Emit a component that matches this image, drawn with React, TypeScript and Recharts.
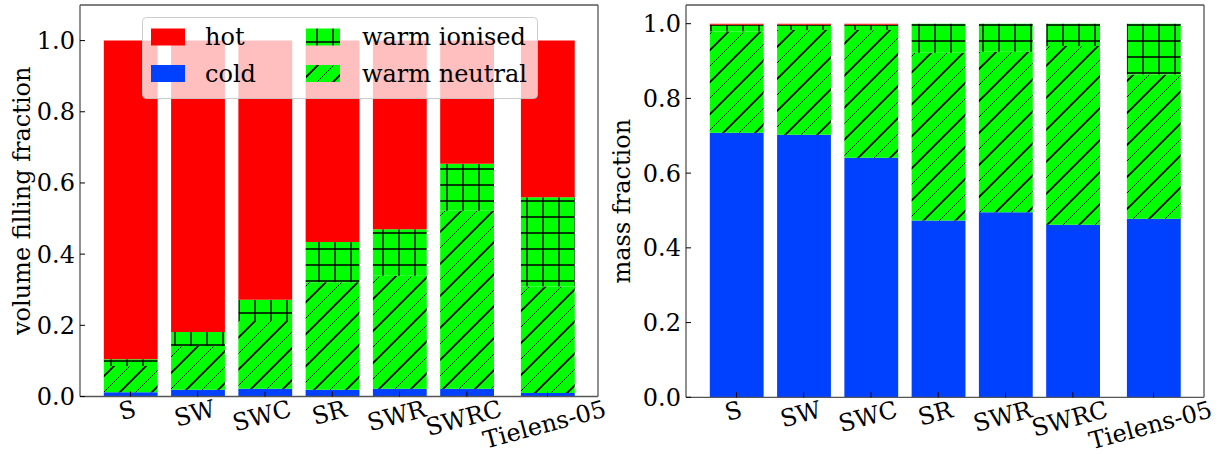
import React from 'react';
import { BarChart, Bar, XAxis, YAxis, Label } from 'recharts';

// ISM phase fractions per simulation run
const categories = ['S', 'SW', 'SWC', 'SR', 'SWR', 'SWRC', 'Tielens-05'];
const slots = [0, 1, 2, 3, 4, 5, 6.2];

const volCold = [0.012, 0.019, 0.022, 0.019, 0.022, 0.022, 0.01];
const volWarmNeutral = [0.074, 0.123, 0.19, 0.302, 0.317, 0.5, 0.299];
const volWarmIonised = [0.019, 0.039, 0.06, 0.113, 0.131, 0.132, 0.251];
const volHot = [0.895, 0.819, 0.728, 0.566, 0.53, 0.346, 0.44];

const massCold = [0.708, 0.703, 0.641, 0.473, 0.495, 0.462, 0.478];
const massWarmNeutral = [0.271, 0.28, 0.342, 0.449, 0.43, 0.478, 0.386];
const massWarmIonised = [0.018, 0.014, 0.014, 0.078, 0.075, 0.06, 0.136];
const massHot = [0.003, 0.003, 0.003, 0, 0, 0, 0];

const yTicks = [0, 0.2, 0.4, 0.6, 0.8, 1.0];
const xDomain: [number, number] = [-0.75, 6.95];

const RED = '#ff0000';
const BLUE = '#0040ff';
const GREEN = '#00ff00';
const SPINE = '#555555';
const FONT = "'DejaVu Serif', serif";
const FS = 24;

let measureCtx: CanvasRenderingContext2D | null = null;
function textWidth(s: string): number {
  if (!measureCtx) measureCtx = document.createElement('canvas').getContext('2d');
  if (!measureCtx) return s.length * FS * 0.55;
  measureCtx.font = `${FS}px ${FONT}`;
  return measureCtx.measureText(s).width;
}

function HatchDefs({ pid }: { pid: string }) {
  return (
    <defs>
      <pattern id={`${pid}-wn`} patternUnits="userSpaceOnUse" width={32} height={32}>
        <rect width={32} height={32} fill={GREEN} />
        <path d="M-8,8 L8,-8 M0,32 L32,0 M24,40 L40,24" stroke="#000" strokeWidth={1.8} />
        <path d="M-8,24 L24,-8 M8,40 L40,8" stroke="#000" strokeWidth={0.9} />
      </pattern>
      <pattern id={`${pid}-wi`} patternUnits="userSpaceOnUse" width={16} height={16} x={7} y={1}>
        <rect width={16} height={16} fill={GREEN} />
        <path d="M8,0 V16 M0,8 H16" stroke="#000" strokeWidth={1.4} />
      </pattern>
    </defs>
  );
}

function XTick(props: any) {
  const { x, y, index } = props;
  const label = categories[index];
  const w = textWidth(label);
  const a = (15 * Math.PI) / 180;
  const cx = x - 3;
  const cy = y + (w / 2) * Math.sin(a) + 7 * Math.cos(a);
  return (
    <text
      x={cx}
      y={cy}
      textAnchor="middle"
      dominantBaseline="central"
      transform={`rotate(-15 ${cx} ${cy})`}
      fontFamily={FONT}
      fontSize={FS}
      fill="#000"
    >
      {label}
    </text>
  );
}

type PanelProps = {
  pid: string;
  cold: number[];
  warmNeutral: number[];
  warmIonised: number[];
  hot: number[];
  left: number;
  width: number;
  marginLeft: number;
  marginRight: number;
  yMax: number;
  xAxisH: number;
  yLabel: string;
  labelX: number;
};

function Panel(p: PanelProps) {
  const rows = categories.map((name, i) => ({
    name,
    x: slots[i],
    cold: p.cold[i],
    warmNeutral: p.warmNeutral[i],
    warmIonised: p.warmIonised[i],
    hot: p.hot[i],
  }));
  const yAxisW = 70;
  const plotW = p.width - p.marginLeft - yAxisW - p.marginRight - 1;
  const barPx = (0.8 * plotW) / (xDomain[1] - xDomain[0]);
  return (
    <div style={{ position: 'absolute', left: p.left, top: 0 }}>
      <BarChart
        width={p.width}
        height={454}
        data={rows}
        barSize={barPx}
        margin={{ top: 4, right: p.marginRight, bottom: 0, left: p.marginLeft }}
      >
        <HatchDefs pid={p.pid} />
        <XAxis
          dataKey="x"
          type="number"
          domain={xDomain}
          ticks={slots}
          interval={0}
          allowDataOverflow
          height={p.xAxisH}
          tickSize={-5}
          tickMargin={10}
          tick={<XTick />}
          stroke={SPINE}
          axisLine={{ stroke: SPINE, strokeWidth: 1.3 }}
          tickLine={{ stroke: '#000' }}
        />
        {/* frame: top spine with inward ticks */}
        <XAxis
          xAxisId="top"
          orientation="top"
          type="number"
          domain={xDomain}
          ticks={slots}
          interval={0}
          allowDataOverflow
          height={1}
          tick={false}
          tickSize={-5}
          stroke={SPINE}
          axisLine={{ stroke: SPINE, strokeWidth: 1.3 }}
          tickLine={{ stroke: '#000' }}
        />
        <YAxis
          type="number"
          domain={[0, p.yMax]}
          ticks={yTicks}
          interval={0}
          allowDataOverflow
          width={yAxisW}
          tickSize={-5}
          tickMargin={10}
          tickFormatter={(v: number) => v.toFixed(1)}
          tick={{ fill: '#000', fontSize: FS, fontFamily: FONT }}
          stroke={SPINE}
          axisLine={{ stroke: SPINE, strokeWidth: 1.3 }}
          tickLine={{ stroke: '#000' }}
        >
          <Label
            content={(lp: any) => {
              const vb = lp.viewBox || { y: 5, height: 392 };
              const cy = vb.y + vb.height / 2;
              return (
                <text
                  x={p.labelX}
                  y={cy}
                  textAnchor="middle"
                  dominantBaseline="central"
                  transform={`rotate(-90 ${p.labelX} ${cy})`}
                  fontFamily={FONT}
                  fontSize={FS}
                  fill="#000"
                >
                  {p.yLabel}
                </text>
              );
            }}
          />
        </YAxis>
        {/* frame: right spine with inward ticks */}
        <YAxis
          yAxisId="right"
          orientation="right"
          type="number"
          domain={[0, p.yMax]}
          ticks={yTicks}
          interval={0}
          allowDataOverflow
          width={1}
          tick={false}
          tickSize={-5}
          stroke={SPINE}
          axisLine={{ stroke: SPINE, strokeWidth: 1.3 }}
          tickLine={{ stroke: '#000' }}
        />
        <Bar dataKey="cold" stackId="s" fill={BLUE} isAnimationActive={false} />
        <Bar dataKey="warmNeutral" stackId="s" fill={`url(#${p.pid}-wn)`} isAnimationActive={false} />
        <Bar dataKey="warmIonised" stackId="s" fill={`url(#${p.pid}-wi)`} isAnimationActive={false} />
        <Bar dataKey="hot" stackId="s" fill={RED} isAnimationActive={false} />
      </BarChart>
    </div>
  );
}

const legendItems = [
  { label: 'hot', fill: RED, col: 0, row: 0 },
  { label: 'cold', fill: BLUE, col: 0, row: 1 },
  { label: 'warm ionised', fill: 'url(#lg-wi)', col: 1, row: 0 },
  { label: 'warm neutral', fill: 'url(#lg-wn)', col: 1, row: 1 },
];

function PhaseLegend() {
  const colSwatch = [9, 164];
  const colText = [63, 220];
  const rowMid = [20, 56.5];
  return (
    <svg
      width={396}
      height={82}
      style={{ position: 'absolute', left: 141.5, top: 16.5, overflow: 'visible' }}
    >
      <HatchDefs pid="lg" />
      <rect
        x={0.5}
        y={0.5}
        width={395}
        height={81}
        rx={4}
        ry={4}
        fill="rgba(255,255,255,0.75)"
        stroke="rgba(200,200,200,0.9)"
        strokeWidth={1}
      />
      {legendItems.map((it) => (
        <g key={it.label}>
          <rect
            x={colSwatch[it.col]}
            y={rowMid[it.row] - 8.5}
            width={34}
            height={17}
            fill={it.fill}
          />
          <text
            x={colText[it.col]}
            y={rowMid[it.row]}
            dominantBaseline="central"
            fontFamily={FONT}
            fontSize={FS}
            fill="#000"
          >
            {it.label}
          </text>
        </g>
      ))}
    </svg>
  );
}

export default function App() {
  return (
    <div
      style={{
        position: 'absolute',
        left: 0,
        top: 0,
        width: 1226,
        height: 454,
        background: '#fff',
        overflow: 'hidden',
      }}
    >
      <Panel
        pid="vol"
        cold={volCold}
        warmNeutral={volWarmNeutral}
        warmIonised={volWarmIonised}
        hot={volHot}
        left={0}
        width={610}
        marginLeft={10}
        marginRight={11}
        yMax={1.1}
        xAxisH={57.5}
        yLabel="volume filling fraction"
        labelX={22}
      />
      <Panel
        pid="mass"
        cold={massCold}
        warmNeutral={massWarmNeutral}
        warmIonised={massWarmIonised}
        hot={massHot}
        left={600}
        width={626}
        marginLeft={16}
        marginRight={21}
        yMax={1.05}
        xAxisH={56.7}
        yLabel="mass fraction"
        labelX={22}
      />
      <PhaseLegend />
    </div>
  );
}
